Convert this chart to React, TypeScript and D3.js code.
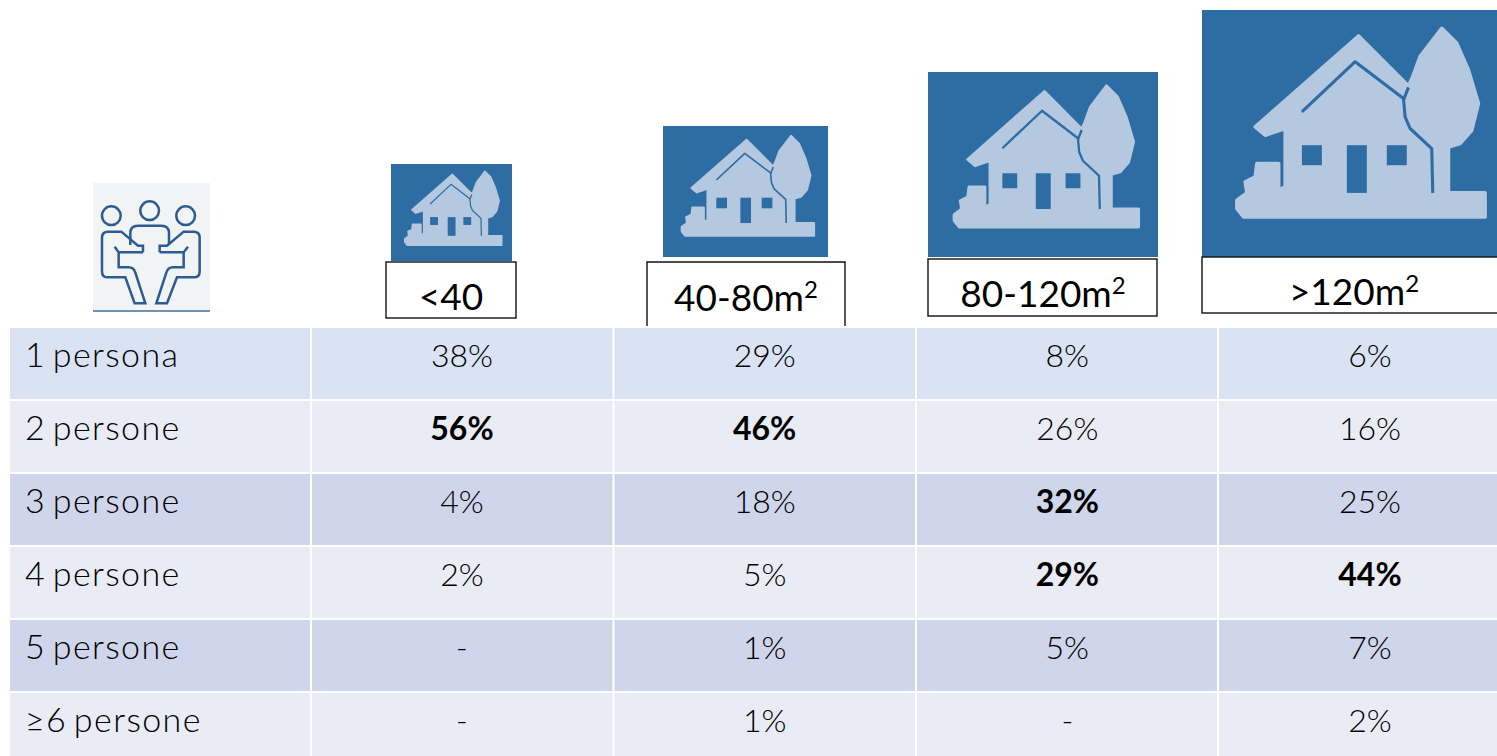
import React from "react";
import * as d3 from "d3";

const WIDTH = 1497;
const HEIGHT = 756;

const rowLabels = ["1 persona", "2 persone", "3 persone", "4 persone", "5 persone", "≥6 persone"];
const sizeLabels = ["<40", "40-80m", "80-120m", ">120m"];
const sizeSup = ["", "2", "2", "2"];
const col40 = ["38%", "56%", "4%", "2%", "-", "-"];
const col80 = ["29%", "46%", "18%", "5%", "1%", "1%"];
const col120 = ["8%", "26%", "32%", "29%", "5%", "-"];
const colMax = ["6%", "16%", "25%", "44%", "7%", "2%"];
const boldFlags = [
  [false, true, false, false, false, false],
  [false, true, false, false, false, false],
  [false, false, true, true, false, false],
  [false, false, false, true, false, false],
];
const columns = [col40, col80, col120, colMax];

const rowTops = [328, 401, 474, 547, 620, 693, 766];
const colEdges = [10, 312, 614.5, 917, 1219, 1500];
const rowFills = ["#d9e3f3", "#e9ebf5", "#cfd5ea", "#e9ebf5", "#cfd5ea", "#e9ebf5"];

// picture boxes: [x0, y0, x1, y1]; the largest runs past the page edge
const houseBoxes = [
  [391, 164, 512, 261],
  [663, 126, 828, 257],
  [928, 72, 1158, 257],
  [1202, 10, 1511, 257],
];
const labelBoxes = [
  { x0: 386, y0: 262, x1: 516, y1: 318, open: false, cx: 451, base: 310 },
  { x0: 647, y0: 262, x1: 845, y1: 326, open: true, cx: 746, base: 311 },
  { x0: 928, y0: 259, x1: 1157, y1: 316, open: false, cx: 1043, base: 307 },
  { x0: 1202, y0: 257, x1: 1500, y1: 313, open: false, cx: 1354, base: 305 },
];

type P = [number, number];
// House glyph, in its own drawing units (domain below)
const glyphX = [35, 963];
const glyphY = [30, 770];
const silhouette: P[] = [
  [195, 380], [505, 108], [655, 258], [668, 230], [690, 170], [755, 85], [800, 130], [835, 210], [865, 310],
  [845, 390], [810, 430], [775, 440], [775, 578], [885, 578], [885, 650], [160, 650], [140, 625], [140, 600],
  [170, 578], [165, 545], [195, 530], [200, 490], [265, 490], [265, 570], [285, 560], [285, 385], [225, 405],
];
const gapMain: P[] = [[335, 335], [495, 185], [640, 295], [645, 350], [660, 385], [725, 445], [728, 578]];
const gapTree: P[] = [[655, 262], [640, 300]];
const openings = [
  [335, 435, 395, 495],
  [590, 435, 650, 495],
  [470, 435, 530, 578],
];

// People icon, in its own drawing units (3 per px)
const personCircles: P[] = [[55, 77], [170, 62], [278, 77]];
const peoplePaths = [
  "M150,187 V167 H135 L85,125 H45 Q27,125 27,143 V245 Q27,262 45,262 H97 L125,340 H157 L127,248 Q122,232 107,232 H77 V187 L65,170",
  "M112,165 V130 Q112,107 135,107 H205 Q228,107 228,130 V165",
  "M200,187 V167 H222 L272,125 H302 Q320,125 320,143 V245 Q320,262 302,262 H252 L222,340 H190 L220,248 Q225,232 240,232 H272 V187 L285,170",
  "M77,187 H150 M200,187 H272",
];

const closed = d3.line<P>().curve(d3.curveLinearClosed);
const openLine = d3.line<P>().curve(d3.curveLinear);
const valueX = d3.scaleLinear().domain([0, 3]).range([462, 1370]);

function House({ box }: { box: number[] }) {
  const [x0, y0, x1, y1] = box;
  const sx = d3.scaleLinear().domain(glyphX).range([x0, x1]);
  const sy = d3.scaleLinear().domain(glyphY).range([y0, y1]);
  const map = (pts: P[]) => pts.map(([a, b]) => [sx(a), sy(b)] as P);
  const light = "#b4c8df";
  const blue = "#2e6ca4";
  const w = x1 - x0;
  return (
    <g>
      <rect x={x0} y={y0} width={w} height={y1 - y0} fill={blue} />
      <path d={closed(map(silhouette)) ?? ""} fill={light} stroke={light} strokeWidth={w * 0.012} strokeLinejoin="round" />
      <path d={openLine(map(gapMain)) ?? ""} fill="none" stroke={blue} strokeWidth={w * 0.01} strokeLinejoin="round" />
      <path d={openLine(map(gapTree)) ?? ""} fill="none" stroke={blue} strokeWidth={w * 0.01} />
      {openings.map(([a, b, c, d], i) => (
        <rect key={i} x={sx(a)} y={sy(b)} width={sx(c) - sx(a)} height={sy(d) - sy(b)} fill={blue} />
      ))}
    </g>
  );
}

export default function App() {
  const bodyFont = "Lato, 'Open Sans', sans-serif";
  return (
    <svg
      width={WIDTH}
      height={HEIGHT}
      viewBox={`0 0 ${WIDTH} ${HEIGHT}`}
      style={{ position: "absolute", left: 0, top: 0, background: "#ffffff" }}
    >
      {/* people icon */}
      <rect x={93} y={183} width={117} height={127} fill="#f2f3f4" />
      <line x1={93} x2={210} y1={311} y2={311} stroke="#3b6f9e" strokeWidth={1.6} />
      <g transform="translate(93,190) scale(0.3333)" fill="none" stroke="#2b5c92" strokeWidth={7.5}>
        {personCircles.map(([cx, cy], i) => (
          <circle key={i} cx={cx} cy={cy} r={28} />
        ))}
        {peoplePaths.map((d, i) => (
          <path key={i} d={d} />
        ))}
      </g>

      {houseBoxes.map((b, i) => (
        <House key={i} box={b} />
      ))}

      {labelBoxes.map((b, i) => (
        <g key={i}>
          {b.open ? (
            <path d={`M${b.x0},${b.y1} V${b.y0} H${b.x1} V${b.y1}`} fill="#fff" stroke="#111" strokeWidth={1.4} />
          ) : (
            <rect x={b.x0} y={b.y0} width={b.x1 - b.x0} height={b.y1 - b.y0} fill="#fff" stroke="#111" strokeWidth={1.4} />
          )}
          <text x={b.cx} y={b.base} textAnchor="middle" fontFamily="Lato, sans-serif" fontSize={37} fill="#000">
            {sizeLabels[i]}
            {sizeSup[i] ? (
              <tspan fontSize={24} dy={-13}>
                {sizeSup[i]}
              </tspan>
            ) : null}
          </text>
        </g>
      ))}

      {rowLabels.map((label, r) => (
        <g key={r}>
          {colEdges.slice(0, -1).map((x, c) => (
            <rect
              key={c}
              x={x}
              y={rowTops[r]}
              width={colEdges[c + 1] - x - 2}
              height={Math.min(rowTops[r + 1] - 2, HEIGHT) - rowTops[r]}
              fill={rowFills[r]}
            />
          ))}
          <text
            x={25}
            y={rowTops[r] + 39}
            fontFamily={bodyFont}
            fontSize={34}
            fontWeight={300}
            letterSpacing={1.4}
            wordSpacing={-4}
            fill="#000"
          >
            {label}
          </text>
          {columns.map((col, c) => (
            <text
              key={c}
              x={valueX(c)}
              y={rowTops[r] + 39}
              textAnchor="middle"
              fontFamily={bodyFont}
              fontSize={32}
              fontWeight={boldFlags[c][r] ? 700 : 300}
              fill="#000"
            >
              {col[r]}
            </text>
          ))}
        </g>
      ))}
    </svg>
  );
}
